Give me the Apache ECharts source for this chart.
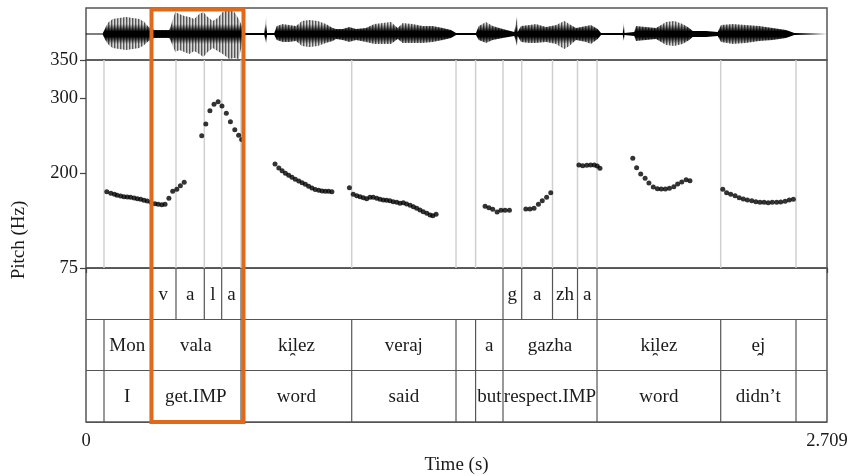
<!DOCTYPE html>
<html><head><meta charset="utf-8">
<script src="https://cdn.jsdelivr.net/npm/echarts@6/dist/echarts.min.js"></script>
<style>html,body{margin:0;padding:0;background:#fff}#c{width:851px;height:476px}</style>
</head><body><div id="c"></div>
<script>
// ---------- data ----------
const duration = 2.709;
const pitchTicks = [75, 200, 300, 350];
const timeTicks = [0, 2.709];

const phoneTimes  = [0, 0.2358, 0.329, 0.4325, 0.496, 0.5667, 1.5245, 1.5929, 1.7055, 1.7969, 1.8682, 2.709];
const phoneLabels = ['', 'v', 'a', 'l', 'a', '', 'g', 'a', 'zh', 'a', ''];
const wordTimes   = [0, 0.0658, 0.2358, 0.5667, 0.9714, 1.3527, 1.4243, 1.5245, 1.8682, 2.3204, 2.5957, 2.709];
const wordLabels  = ['', 'Mon', 'vala', 'ki\u032Flez', 'veraj', '', 'a', 'gazha', 'ki\u032Flez', 'e\u032Fj', ''];
const glossLabels = ['', 'I', 'get.IMP', 'word', 'said', '', 'but', 'respect.IMP', 'word', 'didn\u2019t', ''];
const highlightWord = 'vala';

const pitchTime = [
0.076,0.091,0.104,0.114,0.127,0.139,0.151,0.163,0.176,0.188,0.200,0.212,0.224,0.237,0.252,0.264,0.277,0.289,0.303,0.317,0.332,0.345,0.359,
0.423,0.438,0.453,0.468,0.483,0.497,0.513,0.528,0.544,0.558,0.569,
0.691,0.705,0.717,0.729,0.741,0.753,0.765,0.778,0.790,0.802,0.814,0.826,0.838,0.851,0.863,0.875,0.887,0.899,
0.963,0.977,0.990,1.002,1.014,1.026,1.038,1.050,1.063,1.075,1.087,1.099,1.111,1.123,1.136,1.148,1.160,1.172,1.185,1.197,1.209,1.221,1.233,1.246,1.258,1.268,1.280,
1.459,1.473,1.487,1.503,1.517,1.532,1.548,
1.608,1.623,1.638,1.654,1.668,1.684,1.699,
1.802,1.816,1.831,1.845,1.858,1.869,1.879,
1.999,2.013,2.028,2.044,2.058,2.074,2.089,2.103,2.118,2.133,2.149,2.163,2.178,2.194,2.208,
2.328,2.342,2.357,2.373,2.388,2.403,2.418,2.434,2.449,2.464,2.479,2.494,2.509,2.525,2.540,2.556,2.571,2.586
];
const pitchHz = [
175.9,173.8,172.4,171.1,170.2,169.3,168.9,168.5,167.5,166.6,165.8,164.5,163.6,162.3,160.0,159.2,158.7,159.2,167.2,176.4,179.0,183.8,188.3,
249.9,265.4,283.0,291.4,294.9,289.2,279.5,268.4,257.8,250.4,244.9,
212.5,207.2,203.5,200.3,197.6,194.9,192.4,190.0,187.8,185.7,183.1,180.8,178.7,177.7,176.8,176.4,176.4,175.9,
181.2,172.4,170.6,169.3,167.9,166.6,168.5,168.5,167.2,165.8,164.9,164.5,164.0,162.7,161.9,160.5,161.3,159.6,157.9,156.0,153.9,151.7,149.4,147.3,145.1,144.1,146.0,
156.6,154.7,152.6,149.0,151.3,151.3,151.3,
153.0,153.0,153.9,159.2,164.0,168.5,174.6,
211.2,210.3,210.8,211.2,211.2,209.9,206.8,
220.0,207.6,199.3,193.6,187.4,182.1,179.8,179.4,179.4,180.4,182.5,186.1,188.7,191.7,190.4,
179.0,174.6,172.4,170.6,167.9,166.2,164.9,164.0,162.7,161.9,161.9,161.3,161.9,161.9,162.3,163.2,164.9,165.8
];

// waveform envelope (upper / lower extent)
const waveTime = [0,0.061,0.0706,0.0793,0.0976,0.1217,0.1462,0.1707,0.1949,0.2131,0.2292,0.2497,0.2804,0.3045,0.3144,0.3265,0.3411,0.3594,0.3777,0.3959,0.4142,0.4288,0.4449,0.4632,0.4815,0.4998,0.5239,0.5422,0.5583,0.5703,0.5824,0.6518,0.6562,0.6592,0.6617,0.6884,0.6972,0.7191,0.7432,0.7677,0.7897,0.8164,0.8471,0.8774,0.9019,0.9140,0.9385,0.9626,0.9871,1.0236,1.0540,1.0847,1.1151,1.1396,1.1578,1.1944,1.2310,1.2675,1.3041,1.3344,1.3527,1.4258,1.4357,1.4624,1.4869,1.5234,1.5658,1.5731,1.5757,1.5782,1.5903,1.6207,1.6452,1.6817,1.7183,1.7486,1.7669,1.7914,1.8280,1.8462,1.8707,1.8828,1.9625,1.9658,1.9687,2.0045,2.0107,2.0473,2.0839,2.1204,2.1508,2.1815,2.2056,2.2180,2.2667,2.3094,2.3215,2.3643,2.4129,2.4615,2.5105,2.5591,2.5895,2.709];
const waveUpper = [0.5,0.5,6,11,15,16,17,16,15,12,7,4,4,4,12,22,20,18,17,15,20,22,17,13,16,22,24,22,15,8,1,1,1,18,1,1,8,10,9,8,13,14,13,10,6,5,5,7,5,6,10,11,12,6,11,10,8,8,6,4,1,1,8,12,8,5,2,2,17,2,8,9,10,7,9,13,10,6,8,9,5,1,1,12,1,2,8,7,6,12,13,10,6,3,3,2,9,10,9,8,6,4,1,0.5];
const waveLower = [0.5,0.5,6,10,14,15,16,15,14,11,7,4,4,4,10,18,16,18,20,17,20,23,18,14,17,20,25,24,25,10,1,1,1,10,1,1,6,8,8,7,12,13,12,9,7,5,6,8,6,8,10,10,10,5,9,9,9,8,6,4,1,1,6,9,6,4,2,2,12,2,8,9,9,8,10,15,12,6,8,10,5,1,1,7,1,2,7,6,5,11,12,10,6,3,3,2,8,10,9,7,6,4,1,0.5];

// ---------- chart ----------
const FONT = '"Liberation Serif", "Times New Roman", serif';
const TXT = '#1a1a1a';
const FRAME = '#555';

const tierItems = [];
[[phoneTimes, phoneLabels], [wordTimes, wordLabels], [wordTimes, glossLabels]].forEach(([times, labels], k) => {
  labels.forEach((lab, i) => tierItems.push({ s: times[i], e: times[i + 1], k: k, label: lab }));
});
const boundaryTimes = Array.from(new Set(phoneTimes.concat(wordTimes)))
  .filter(t => t > 0 && t < duration).sort((a, b) => a - b);

const chart = echarts.init(document.getElementById('c'), null, { renderer: 'canvas' });

const gridBase = { left: 86, right: 24, show: true, borderColor: FRAME, borderWidth: 1.5, backgroundColor: 'transparent' };
const labelStyle = { fontSize: 18.5, fontFamily: FONT, color: TXT };

chart.setOption({
  animation: false,
  backgroundColor: '#fff',
  grid: [
    Object.assign({ top: 8, height: 52 }, gridBase),
    Object.assign({ top: 60, height: 208 }, gridBase),
    Object.assign({ top: 268, height: 155 }, gridBase)
  ],
  xAxis: [
    { gridIndex: 0, type: 'value', min: 0, max: duration, show: false },
    { gridIndex: 1, type: 'value', min: 0, max: duration, show: false },
    { gridIndex: 2, type: 'value', min: 0, max: duration,
      axisLine: { show: false }, splitLine: { show: false },
      axisTick: { show: true, customValues: timeTicks, length: 5, lineStyle: { color: '#444', width: 1.2 } },
      axisLabel: Object.assign({ customValues: timeTicks, formatter: v => String(v), margin: 10 }, labelStyle),
      name: 'Time (s)', nameLocation: 'middle', nameGap: 34,
      nameTextStyle: { fontSize: 19, fontFamily: FONT, color: TXT } }
  ],
  yAxis: [
    { gridIndex: 0, type: 'value', min: -26, max: 26, show: false },
    { gridIndex: 1, type: 'value', min: 75, max: 350,
      axisLine: { show: false }, splitLine: { show: false },
      axisTick: { show: true, customValues: pitchTicks, length: 6, lineStyle: { color: '#444', width: 1.2 } },
      axisLabel: Object.assign({ customValues: pitchTicks, margin: 8 }, labelStyle) },
    { gridIndex: 2, type: 'value', min: 0, max: 3, interval: 1, inverse: true,
      axisLine: { show: false }, axisTick: { show: false }, axisLabel: { show: false },
      splitLine: { show: true, lineStyle: { color: FRAME, width: 1.2 } } }
  ],
  series: [
    { type: 'line', xAxisIndex: 0, yAxisIndex: 0, silent: true, showSymbol: false,
      data: waveTime.map((t, i) => [t, waveUpper[i]]),
      lineStyle: { width: 0 }, areaStyle: { color: '#000', opacity: 1 } },
    { type: 'line', xAxisIndex: 0, yAxisIndex: 0, silent: true, showSymbol: false,
      data: waveTime.map((t, i) => [t, -waveLower[i]]),
      lineStyle: { width: 0 }, areaStyle: { color: '#000', opacity: 1 } },
    { type: 'custom', xAxisIndex: 1, yAxisIndex: 1, silent: true, clip: false, z: 1,
      data: boundaryTimes.map(t => [t, 75]), encode: { x: 0, y: 1 },
      renderItem: (params, api) => {
        const a = api.coord([api.value(0), 350]);
        const b = api.coord([api.value(0), 75]);
        return { type: 'line', shape: { x1: a[0], y1: a[1], x2: b[0], y2: b[1] },
          style: { stroke: '#d0d0d0', lineWidth: 1.5 } };
      } },
    { type: 'scatter', xAxisIndex: 1, yAxisIndex: 1, silent: true, z: 3,
      symbolSize: 5, itemStyle: { color: '#000' },
      data: pitchTime.map((t, i) => [t, pitchHz[i]]) },
    { type: 'custom', xAxisIndex: 2, yAxisIndex: 2, silent: true, clip: false,
      data: tierItems.map(it => [it.s, it.e, it.k]), encode: { x: [0, 1], y: 2 },
      renderItem: (params, api) => {
        const it = tierItems[params.dataIndex];
        const p0 = api.coord([it.s, it.k]);
        const p1 = api.coord([it.e, it.k + 1]);
        const children = [];
        if (it.s > 0) children.push({ type: 'line',
          shape: { x1: p0[0], y1: p0[1], x2: p0[0], y2: p1[1] },
          style: { stroke: FRAME, lineWidth: 1.2 } });
        if (it.label) children.push({ type: 'text',
          style: { text: it.label, x: (p0[0] + p1[0]) / 2, y: (p0[1] + p1[1]) / 2 + 1,
            align: 'center', verticalAlign: 'middle', fontSize: 19, fontFamily: FONT, fill: TXT } });
        return { type: 'group', children };
      } }
  ]
});

// waveform texture: striated, dark at the zero line, grey toward the peaks
const yTop = chart.convertToPixel({ yAxisIndex: 0 }, 26);
const yMid = chart.convertToPixel({ yAxisIndex: 0 }, 0);
const H = Math.ceil(chart.convertToPixel({ yAxisIndex: 0 }, -26)) + 2;
const cv = document.createElement('canvas');
cv.width = 3; cv.height = H;
const cx = cv.getContext('2d');
for (let y = 0; y < H; y++) {
  const dpx = Math.abs(y + 0.5 - yMid);
  const g = Math.max(0, Math.min(1, (dpx - 2.5) / 7.5));
  const cols = [g * 85, g * 165, g * 215];
  cols.forEach((v, i) => {
    const c = Math.round(v);
    cx.fillStyle = 'rgb(' + c + ',' + c + ',' + c + ')';
    cx.fillRect(i, y, 1, 1);
  });
}
const pat = { image: cv, repeat: 'repeat' };

const wi = wordLabels.indexOf(highlightWord);
const hx0 = chart.convertToPixel({ xAxisIndex: 2 }, wordTimes[wi]);
const hx1 = chart.convertToPixel({ xAxisIndex: 2 }, wordTimes[wi + 1]);
const hBot = chart.convertToPixel({ yAxisIndex: 2 }, 3);
chart.setOption({
  series: [{ areaStyle: { color: pat } }, { areaStyle: { color: pat } }],
  graphic: [
    { type: 'text', x: 19, y: 240, rotation: Math.PI / 2,
      style: { text: 'Pitch (Hz)', fontSize: 19, fontFamily: FONT, fill: TXT, align: 'center', verticalAlign: 'middle' } },
    { type: 'rect', z: 100, silent: true,
      shape: { x: hx0 + 1, y: yTop + 1.5, width: hx1 - hx0 + 1.5, height: hBot - yTop - 1.5 },
      style: { fill: 'none', stroke: '#E0691B', lineWidth: 4 } }
  ]
});
</script>
</body></html>
